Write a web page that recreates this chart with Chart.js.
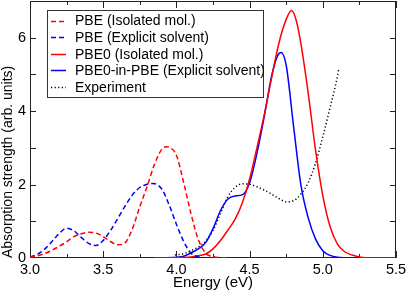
<!DOCTYPE html>
<html><head><meta charset="utf-8">
<script src="https://cdn.jsdelivr.net/npm/chart.js@4/dist/chart.umd.min.js"></script>
<style>html,body{margin:0;padding:0;background:#fff}</style>
</head><body>
<canvas id="c" width="407" height="291"></canvas>
<script>
// ---- data ----
const xTickLabels = ['3.0', '3.5', '4.0', '4.5', '5.0', '5.5'];
const yTickLabels = ['0', '2', '4', '6'];
const seriesLabels = ['PBE (Isolated mol.)', 'PBE (Explicit solvent)', 'PBE0 (Isolated mol.)', 'PBE0-in-PBE (Explicit solvent)', 'Experiment'];

const pbeIsoE = [3.00,3.05,3.10,3.15,3.20,3.25,3.30,3.35,3.40,3.45,3.50,3.55,3.60,3.65,3.70,3.75,3.80,3.85,3.90,3.93,3.96,4.00,4.05,4.10,4.15,4.20,4.25,4.30,4.35];
const pbeIsoY = [0.02,0.06,0.12,0.21,0.32,0.44,0.58,0.66,0.70,0.68,0.58,0.45,0.36,0.42,0.80,1.40,1.95,2.55,2.96,3.03,3.00,2.80,2.05,1.20,0.50,0.13,0.04,0.01,0.00];

const pbeExpE = [3.00,3.05,3.10,3.15,3.20,3.25,3.30,3.35,3.40,3.45,3.50,3.55,3.60,3.65,3.70,3.75,3.80,3.84,3.90,3.95,4.00,4.05,4.10,4.15,4.20];
const pbeExpY = [0.03,0.10,0.24,0.45,0.67,0.81,0.74,0.56,0.40,0.34,0.48,0.75,1.08,1.42,1.72,1.92,2.01,2.03,1.88,1.45,0.92,0.45,0.13,0.03,0.00];

const pbe0IsoE = [3.85,4.00,4.10,4.15,4.20,4.25,4.30,4.35,4.40,4.45,4.50,4.55,4.60,4.65,4.70,4.75,4.787,4.82,4.85,4.90,4.95,5.00,5.05,5.10,5.15,5.20,5.25,5.30,5.40,5.50];
const pbe0IsoY = [0.00,0.005,0.03,0.06,0.11,0.25,0.47,0.75,1.05,1.50,2.15,3.00,3.90,4.90,5.85,6.50,6.74,6.45,5.85,4.50,2.95,1.70,0.85,0.38,0.17,0.08,0.03,0.01,0.00,0.00];

const pbe0ExpE = [3.85,4.00,4.05,4.10,4.15,4.20,4.25,4.30,4.35,4.40,4.45,4.50,4.55,4.60,4.65,4.69,4.715,4.75,4.80,4.85,4.90,4.95,5.00,5.05,5.10,5.20,5.50];
const pbe0ExpY = [0.00,0.02,0.05,0.14,0.25,0.42,0.80,1.28,1.60,1.69,1.72,2.05,2.85,3.85,4.95,5.50,5.60,5.25,3.60,2.00,1.10,0.52,0.20,0.07,0.02,0.00,0.00];

const exptE = [3.99,4.05,4.10,4.15,4.20,4.25,4.30,4.35,4.40,4.45,4.50,4.55,4.60,4.65,4.70,4.75,4.80,4.85,4.90,4.95,5.00,5.05,5.10,5.11];
const exptY = [0.08,0.12,0.20,0.30,0.46,0.75,1.20,1.66,1.92,2.02,2.01,1.94,1.85,1.74,1.62,1.53,1.56,1.74,2.05,2.58,3.30,4.10,4.95,5.17];

// ---- helpers ----
const pts = (xs, ys) => xs.map((x, i) => ({x: x, y: ys[i]}));
const FONT = "'Liberation Sans', Arial, Helvetica, sans-serif";

function mkSet(label, xs, ys, color, dash) {
  return {
    label: label, data: pts(xs, ys), borderColor: color, backgroundColor: color,
    borderWidth: 1.5, borderDash: dash, pointRadius: 0, fill: false,
    cubicInterpolationMode: 'monotone', tension: 0.4
  };
}

const frameTicks = {
  id: 'frameTicks',
  beforeDatasetsDraw(chart) {
    const {ctx, chartArea: a, scales: {x, y}} = chart;
    ctx.save();
    ctx.strokeStyle = '#222';
    ctx.lineWidth = 1;
    ctx.strokeRect(Math.round(a.left) + 0.5, Math.round(a.top) + 0.5, Math.round(a.right - a.left) - 1, Math.round(a.bottom - a.top) - 1);
    ctx.beginPath();
    for (let v = 3.0; v <= 5.5001; v += 0.25) {
      const px = Math.round(x.getPixelForValue(v)) + 0.5;
      const major = Math.abs(v * 2 - Math.round(v * 2)) < 1e-6;
      const len = major ? 7 : 4;
      ctx.moveTo(px, a.bottom); ctx.lineTo(px, a.bottom - len);
      ctx.moveTo(px, a.top); ctx.lineTo(px, a.top + len);
    }
    for (let v = 1; v <= 6; v += 1) {
      const py = Math.round(y.getPixelForValue(v)) + 0.5;
      ctx.moveTo(a.left, py); ctx.lineTo(a.left + 6, py);
      ctx.moveTo(a.right, py); ctx.lineTo(a.right - 6, py);
    }
    ctx.stroke();
    ctx.restore();
  }
};

const boxLegend = {
  id: 'boxLegend',
  afterDatasetsDraw(chart) {
    const {ctx} = chart;
    const bx = 47, by = 10, bw = 216, bh = 87;
    ctx.save();
    ctx.fillStyle = '#fff';
    ctx.fillRect(bx, by, bw, bh);
    ctx.strokeStyle = '#333';
    ctx.lineWidth = 1;
    ctx.strokeRect(bx + 0.5, by + 0.5, bw, bh);
    ctx.font = '14px ' + FONT;
    ctx.textBaseline = 'middle';
    ctx.textAlign = 'left';
    chart.data.datasets.forEach((ds, i) => {
      const cy = 20.5 + i * 16.6;
      ctx.beginPath();
      ctx.setLineDash(ds.borderDash || []);
      ctx.strokeStyle = ds.borderColor;
      ctx.lineWidth = ds.borderWidth;
      ctx.moveTo(51, Math.round(cy) + 0.5);
      ctx.lineTo(66, Math.round(cy) + 0.5);
      ctx.stroke();
      ctx.setLineDash([]);
      ctx.fillStyle = '#000';
      ctx.fillText(ds.label, 75, cy + 1);
    });
    ctx.restore();
  }
};

new Chart(document.getElementById('c'), {
  type: 'line',
  data: {
    datasets: [
      mkSet(seriesLabels[0], pbeIsoE, pbeIsoY, '#ff0000', [5, 3]),
      mkSet(seriesLabels[1], pbeExpE, pbeExpY, '#0000ff', [5, 3]),
      mkSet(seriesLabels[2], pbe0IsoE, pbe0IsoY, '#ff0000', []),
      mkSet(seriesLabels[3], pbe0ExpE, pbe0ExpY, '#0000ff', []),
      mkSet(seriesLabels[4], exptE, exptY, '#000000', [1.2, 2.4])
    ]
  },
  options: {
    responsive: false, animation: false, devicePixelRatio: 1,
    layout: {padding: {left: 0, right: 11, top: 1, bottom: 0}},
    plugins: {legend: {display: false}, tooltip: {enabled: false}},
    scales: {
      x: {
        type: 'linear', min: 3.0, max: 5.5,
        grid: {display: false, drawTicks: false},
        border: {display: false},
        ticks: {
          stepSize: 0.5, padding: 3, color: '#000', maxRotation: 0,
          font: {family: FONT, size: 14.5},
          callback: (v) => { const s = Number(v).toFixed(1); return xTickLabels.includes(s) ? s : ''; }
        },
        title: {display: true, text: 'Energy (eV)', color: '#000', font: {family: FONT, size: 15}, padding: {top: 0, bottom: -1}},
        afterFit(s) { s.height = 33; s.paddingLeft = 0; s.paddingRight = 0; }
      },
      y: {
        type: 'linear', min: 0, max: 7,
        grid: {display: false, drawTicks: false},
        border: {display: false},
        ticks: {
          stepSize: 2, includeBounds: false, padding: 4, color: '#000',
          font: {family: FONT, size: 14.5},
          callback: (v) => { const s = String(v); return yTickLabels.includes(s) ? s : ''; }
        },
        title: {display: true, text: 'Absorption strength (arb. units)', align: 'start', color: '#000', font: {family: FONT, size: 14}, padding: {top: 0, bottom: 0}},
        afterFit(s) { s.width = 30; s.paddingTop = 0; s.paddingBottom = 0; }
      }
    }
  },
  plugins: [frameTicks, boxLegend]
});
</script>
</body></html>
